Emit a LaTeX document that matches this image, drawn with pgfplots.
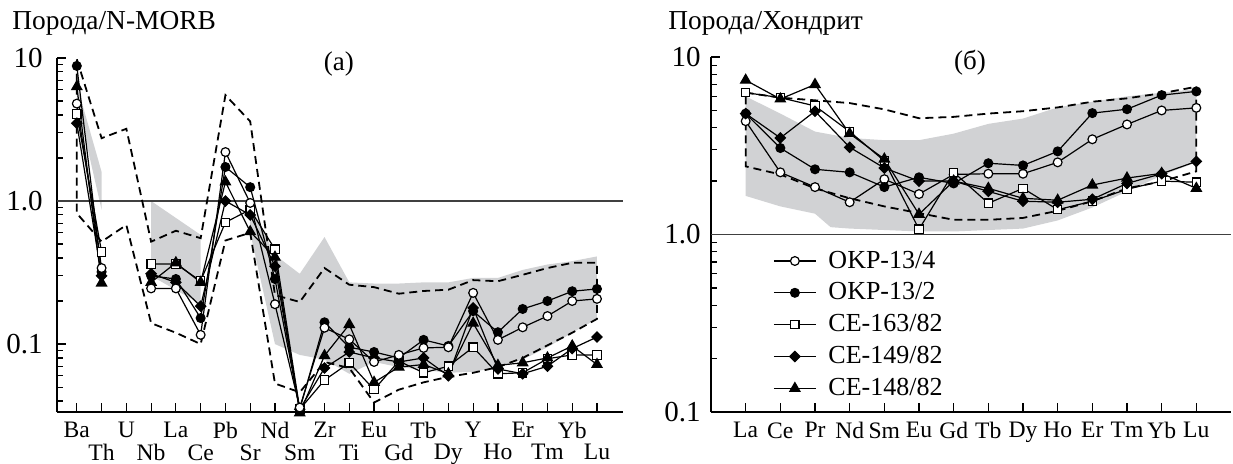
\documentclass[border=0pt]{standalone}
\usepackage{fontspec}
\setmainfont{Liberation Serif}
\usepackage{pgfplots}
\usepackage{pgfplotstable}
\pgfplotsset{compat=1.18}
\definecolor{field}{RGB}{209,210,212}

% spider diagram, N-MORB normalised
\pgfplotstableread{
x  oc    fc    sq    dia   tri
0  4.8   8.8   4.06  3.5   6.3
1  0.34  0.32  0.44  0.30  0.267
2  nan   nan   nan   nan   nan
3  0.245 0.30  0.363 0.31  0.27
4  0.245 0.285 0.363 0.27  0.37
5  0.116 0.152 0.276 0.184 0.27
6  2.2   1.73  0.71  1.0   1.36
7  0.97  1.25  0.87  0.80  0.61
8  0.19  0.285 0.46  0.35  0.405
9  0.036 0.035 0.035 0.035 0.033
10 0.13  0.142 0.056 0.068 0.083
11 0.108 0.095 0.074 0.088 0.137
12 0.075 0.088 0.048 0.08  0.054
13 0.084 0.08  0.076 0.075 0.069
14 0.094 0.107 0.063 0.08  0.072
15 0.095 0.097 0.07  0.06  0.062
16 0.228 0.17  0.095 0.179 0.14
17 0.107 0.121 0.062 0.067 0.071
18 0.131 0.176 0.063 0.062 0.074
19 0.157 0.2   0.079 0.07  0.08
20 0.2   0.234 0.084 0.093 0.097
21 0.207 0.243 0.084 0.112 0.072
}\tabN

% REE, chondrite normalised
\pgfplotstableread{
x  oc    fc    sq    dia   tri
1  4.35  4.8   6.3   4.8   7.4
2  2.24  3.07  5.9   3.5   5.8
3  1.85  2.33  5.3   4.95  7.0
4  1.52  2.24  3.8   3.1   3.7
5  2.05  1.85  2.6   2.37  2.66
6  1.69  2.1   1.07  2.0   1.30
7  2.18  1.94  2.24  2.0   2.0
8  2.2   2.52  1.5   1.75  1.82
9  2.2   2.45  1.82  1.54  1.6
10 2.55  2.94  1.38  1.52  1.56
11 3.44  4.83  1.54  1.58  1.9
12 4.17  5.08  1.8   1.94  2.08
13 5.0   6.1   2.0   2.2   2.21
14 5.17  6.4   1.97  2.58  1.82
}\tabC

\pgfplotsset{
  smp/.style={black, line width=0.6pt, mark size=2.2pt},
  ocirc/.style={smp, mark=*, mark options={fill=white, solid}},
  fcirc/.style={smp, mark=*, mark options={fill=black, solid}},
  osq/.style={smp, mark=square*, mark size=2.1pt, mark options={fill=white, solid}},
  fdia/.style={smp, mark=square*, mark size=1.8pt, mark options={fill=black, rotate=45, solid}},
  ftri/.style={smp, mark=triangle*, mark size=2.9pt, mark options={fill=black, solid}},
  env/.style={black, line width=0.9pt, dash pattern=on 4pt off 2.5pt},
}

\begin{document}
\begin{tikzpicture}
\useasboundingbox (0,0) rectangle (616.5pt,231.5pt);

\node[anchor=base west, inner sep=0pt, font=\fontsize{13.7}{16}\selectfont] at (6pt,217pt) {Порода/N-MORB};
\node[anchor=base west, inner sep=0pt, font=\fontsize{13.7}{16}\selectfont] at (334pt,217pt) {Порода/Хондрит};

% (a) N-MORB
\begin{axis}[
  scale only axis, ymode=log, clip=false,
  axis x line*=bottom, axis y line*=left,
  axis line style={line width=0.8pt, black},
  tick align=inside, major tick length=4.5pt, minor tick length=3pt,
  tick style={black, line width=0.6pt},
  unbounded coords=jump,
  at={(28.5pt,25.5pt)}, anchor=south west,
  width=283pt, height=177pt,
  xmin=-0.8, xmax=22.05, ymin=0.0335, ymax=10,
  ytick={0.1,1,10}, yticklabels={0.1,1.0,10},
  minor ytick={0.04,0.05,0.06,0.07,0.08,0.09,0.2,0.3,0.4,0.5,0.6,0.7,0.8,0.9,2,3,4,5,6,7,8,9},
  yticklabel style={font=\fontsize{14.5}{16}\selectfont, anchor=east, inner sep=0pt, xshift=-7pt},
  xticklabel style={font=\fontsize{11.8}{13}\selectfont, anchor=north, inner sep=0pt, yshift=-5pt},
  xtick={0,2,...,20},
  xticklabels={Ba,U,La,Pb,Nd,Zr,Eu,Tb,Y,Er,Yb},
  extra x ticks={1,3,...,21},
  extra x tick labels={Th,Nb,Ce,Sr,Sm,Ti,Gd,Dy,Ho,Tm,Lu},
  extra x tick style={xticklabel style={yshift=-11pt}},
]
\addplot[fill=field, draw=none, forget plot] coordinates {(0,6.5) (1,1.6) (1,0.87) (0,5)} -- cycle;
\addplot[fill=field, draw=none, forget plot] coordinates {(3,1.0) (5,0.58) (5,0.19) (3,0.3)} -- cycle;
\addplot[fill=field, draw=none, forget plot] coordinates {
  (7,0.94) (8,0.42) (9,0.31) (10,0.56) (11,0.27) (12,0.265) (13,0.265) (14,0.27)
  (15,0.27) (16,0.29) (17,0.29) (18,0.33) (19,0.36) (20,0.38) (21,0.41)
  (21,0.15) (20,0.12) (19,0.095) (18,0.078) (17,0.069) (16,0.064) (15,0.063)
  (14,0.066) (13,0.069) (12,0.075) (11,0.062) (10,0.078) (9,0.084) (8,0.1) (7,0.6)} -- cycle;
\addplot[black!75, line width=0.8pt, forget plot] coordinates {(-0.8,1) (22.05,1)};
\addplot[env, forget plot] coordinates {
  (0,9.8) (1,2.75) (2,3.2) (3,0.52) (4,0.62) (5,0.55) (6,5.5) (7,3.6) (8,0.22)
  (9,0.197) (10,0.34) (11,0.26) (12,0.25) (13,0.225) (14,0.235) (15,0.24)
  (16,0.28) (17,0.275) (18,0.305) (19,0.34) (20,0.37) (21,0.37)
  (21,0.15) (20,0.12) (19,0.098) (18,0.08) (17,0.069) (16,0.063) (15,0.059)
  (14,0.054) (13,0.048) (12,0.039) (11,0.068) (10,0.075) (9,0.046) (8,0.053)
  (7,0.6) (6,0.53) (5,0.10) (4,0.12) (3,0.14) (2,0.68) (1,0.52) (0,0.82)} -- cycle;
\addplot[osq]   table[x=x, y=sq]  {\tabN};
\addplot[fdia]  table[x=x, y=dia] {\tabN};
\addplot[ftri]  table[x=x, y=tri] {\tabN};
\addplot[fcirc] table[x=x, y=fc]  {\tabN};
\addplot[ocirc] table[x=x, y=oc]  {\tabN};
\node[font=\fontsize{13.5}{15}\selectfont] at (axis cs:10.58,9.1) {(а)};
\end{axis}

% (б) chondrite
\begin{axis}[
  scale only axis, ymode=log, clip=false,
  axis x line*=bottom, axis y line*=left,
  axis line style={line width=0.8pt, black},
  tick align=inside, major tick length=4.5pt, minor tick length=3pt,
  tick style={black, line width=0.6pt},
  at={(355.5pt,25.5pt)}, anchor=south west,
  width=260pt, height=177.5pt,
  xmin=0, xmax=15, ymin=0.1, ymax=10,
  ytick={0.1,1,10}, yticklabels={0.1,1.0,10},
  minor ytick={0.2,0.3,0.4,0.5,0.6,0.7,0.8,0.9,2,3,4,5,6,7,8,9},
  yticklabel style={font=\fontsize{14.5}{16}\selectfont, anchor=east, inner sep=0pt, xshift=-5pt},
  xticklabel style={font=\fontsize{11.8}{13}\selectfont, anchor=north, inner sep=0pt, yshift=-5pt},
  xtick={1,...,14},
  xticklabels={La,Ce,Pr,Nd,Sm,Eu,Gd,Tb,Dy,Ho,Er,Tm,Yb,Lu},
  legend style={at={(0.119,0.455)}, anchor=north west, draw=none, fill=none,
    font=\fontsize{13}{15}\selectfont, row sep=5.8pt, column sep=6pt,
    inner sep=0pt, nodes={inner sep=0pt}},
  legend cell align=left,
  legend image code/.code={\draw[mark repeat=2,mark phase=2]
    plot coordinates {(0pt,0pt) (10.5pt,0pt) (21pt,0pt)};},
]
\addplot[fill=field, draw=none, forget plot] coordinates {
  (1,6.0) (2,4.8) (3,3.8) (4,3.5) (5,3.4) (6,3.4) (7,3.7) (8,4.2) (9,4.5)
  (10,5.2) (11,5.6) (12,6.0) (13,6.3) (14,6.6)
  (14,2.55) (13,2.15) (12,1.75) (11,1.42) (10,1.2) (9,1.08) (8,1.06) (7,1.04)
  (6,1.04) (5,1.06) (4,1.08) (3.45,1.1) (3,1.31) (2,1.44) (1,1.65)} -- cycle;
\addplot[black!75, line width=0.8pt, forget plot] coordinates {(0,1) (15,1)};
\addplot[env, forget plot] coordinates {
  (1,6.3) (2,5.9) (3,5.7) (4,5.5) (5,5.07) (6,4.52) (7,4.6) (8,4.8) (9,4.95)
  (10,5.2) (11,5.6) (12,5.85) (13,6.25) (14,6.8)
  (14,2.27) (13,1.99) (12,1.82) (11,1.54) (10,1.36) (9,1.24) (8,1.21) (7,1.21)
  (6,1.32) (5,1.44) (4,1.6) (3,1.82) (2,2.18) (1,2.42)} -- cycle;
\addplot[ocirc] table[x=x, y=oc]  {\tabC}; \addlegendentry{OKP-13/4}
\addplot[fcirc] table[x=x, y=fc]  {\tabC}; \addlegendentry{OKP-13/2}
\addplot[osq]   table[x=x, y=sq]  {\tabC}; \addlegendentry{CE-163/82}
\addplot[fdia]  table[x=x, y=dia] {\tabC}; \addlegendentry{CE-149/82}
\addplot[ftri]  table[x=x, y=tri] {\tabC}; \addlegendentry{CE-148/82}
\node[font=\fontsize{13.5}{15}\selectfont] at (axis cs:7.47,9.25) {(б)};
\end{axis}
\end{tikzpicture}
\end{document}
